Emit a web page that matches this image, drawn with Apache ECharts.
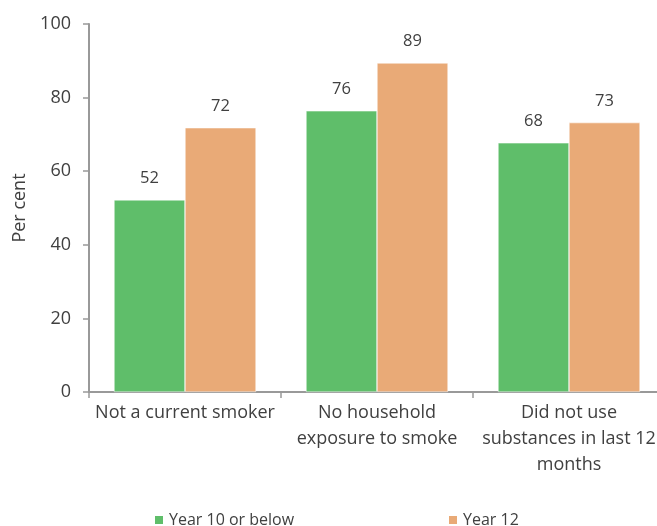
<!DOCTYPE html>
<html><head><meta charset="utf-8">
<script src="https://cdn.jsdelivr.net/npm/echarts@6/dist/echarts.min.js"></script>
<style>html,body{margin:0;padding:0;background:#fff}#c{width:657px;height:526px}</style>
</head><body><div id="c"></div>
<script>
const categories = ["Not a current smoker", "No household\nexposure to smoke", "Did not use\nsubstances in last 12\nmonths"];
const seriesNames = ["Year 10 or below", "Year 12"];
const year10 = [52.2, 76.4, 67.7];
const year12 = [71.8, 89.4, 73.2];
const yTicks = [0, 20, 40, 60, 80, 100];
const colors = ["#5FBE6A", "#E9AA77"];
const font = "Open Sans";
const txt = '#404040';
const chart = echarts.init(document.getElementById('c'));
const lbl = {show:true, position:'top', distance:13, fontFamily:font, fontSize:16.5, color:txt, formatter:p=>Math.round(p.value)};
chart.setOption({
  animation:false,
  textStyle:{fontFamily:font},
  grid:{left:89, top:24, width:576, height:368, containLabel:false, outerBoundsMode:'none'},
  legend:[
    {data:[seriesNames[0]], left:148, top:507, itemWidth:10, itemHeight:10, itemGap:5, icon:'rect', textStyle:{fontFamily:font, fontSize:16, color:txt}},
    {data:[seriesNames[1]], left:442, top:507, itemWidth:10, itemHeight:10, itemGap:5, icon:'rect', textStyle:{fontFamily:font, fontSize:16, color:txt}}
  ],
  xAxis:{type:'category', data:categories,
    axisLine:{lineStyle:{color:'#999', width:2}},
    axisTick:{show:true, length:6, lineStyle:{color:'#999', width:1.5}},
    axisLabel:{fontFamily:font, fontSize:18, color:txt, lineHeight:26, margin:8, interval:0}},
  yAxis:{type:'value', min:0, max:100, interval:20,
    name:'Per cent', nameLocation:'middle', nameGap:59, nameRotate:90,
    nameTextStyle:{fontFamily:font, fontSize:18, color:txt},
    axisLine:{show:true, lineStyle:{color:'#999', width:2}},
    axisTick:{show:true, length:6, lineStyle:{color:'#999', width:1.5}},
    splitLine:{show:false},
    axisLabel:{fontFamily:font, fontSize:18, color:txt, margin:18, customValues:yTicks}},
  series:[
    {name:seriesNames[0], type:'bar', data:year10, barWidth:71, barGap:'0%', itemStyle:{color:colors[0], borderColor:'#fff', borderWidth:0.5}, label:lbl},
    {name:seriesNames[1], type:'bar', data:year12, barWidth:71, barGap:'0%', itemStyle:{color:colors[1], borderColor:'#fff', borderWidth:0.5}, label:lbl}
  ]
});
</script></body></html>
